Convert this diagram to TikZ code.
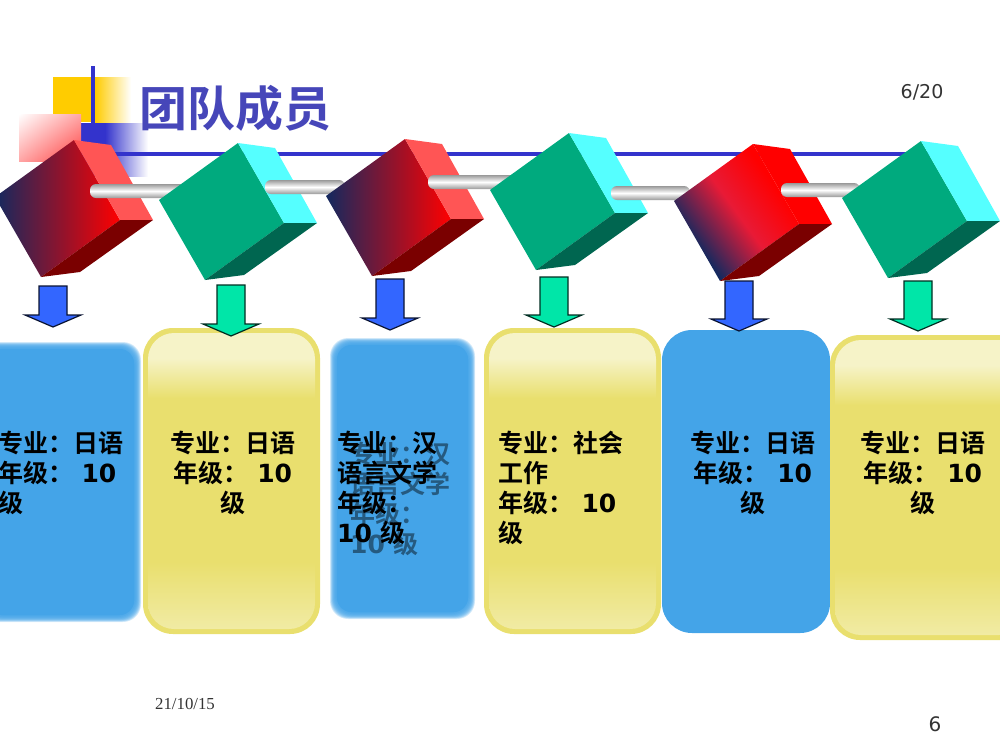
\documentclass[tikz,border=0pt]{standalone}
\usepackage{fontspec}
\usetikzlibrary{shadings}
\setmainfont{DejaVu Sans}
\newfontfamily\cjkbold[BoldFont={Noto Sans CJK SC Bold}]{Noto Sans CJK SC}
\newfontfamily\cjktitle[BoldFont={Noto Sans CJK SC Bold}]{Noto Sans CJK SC}
\newfontfamily\dejabold{DejaVu Sans Bold}
\newfontfamily\dateserif{Liberation Serif}
\newcommand{\cubebox}[5]{%
	\begin{scope}[shift={(#1,#2)}]
		\shade[#3] (0,0) -- (79,-57) -- (125,23) -- (46,80) -- cycle;
		\fill[#4] (79,-57) -- (116,-52) -- (158,23) -- (125,23) -- cycle;
		\fill[#5] (46,80) -- (125,23) -- (158,23) -- (85,75) -- cycle;
	\end{scope}}
\newcommand{\rodbar}[3]{%
	\shade[top color=gray!80,bottom color=gray!80,middle color=white,rounded corners=6pt] (#1,#3) rectangle (#2,#3+14);}
\newcommand{\downarrowbox}[4]{%
	\draw[fill=#4,draw=black!80!#4,line width=1.2pt] (#1-14,#2) -- (#1+14,#2) -- (#1+14,#3-12) -- (#1+28,#3-12) -- (#1,#3) -- (#1-28,#3-12) -- (#1-14,#3-12) -- cycle;}
\newcommand{\softbox}[4]{%
	\foreach \k in {0,...,13}
		\fill[boxblue,opacity=0.2,rounded corners=18pt] (#1+\k*0.5,#2+\k*0.5) rectangle (#3-\k*0.5,#4-\k*0.5);
	\fill[boxblue,rounded corners=14pt] (#1+7,#2+7) rectangle (#3-7,#4-7);}
\newcommand{\creambox}[4]{%
	\fill[boxedge,rounded corners=30pt] (#1,#2) rectangle (#3,#4);
	\begin{scope}
		\clip[rounded corners=26pt] (#1+5,#2+5) rectangle (#3-5,#4-5);
		\fill[boxedge] (#1,#2) rectangle (#3,#4);
		\fill[boxpale] (#1,#2) rectangle (#3,#2+30);
		\shade[top color=boxpale,bottom color=boxedge] (#1,#2+30) rectangle (#3,#2+70);
		\shade[top color=boxedge,bottom color=boxpale!60!boxedge] (#1,#4-72) rectangle (#3,#4-5);
	\end{scope}}
\definecolor{boxblue}{HTML}{44A4E8}
\definecolor{boxedge}{HTML}{E9DF6E}
\definecolor{boxpale}{HTML}{F6F3C8}
\definecolor{linkblue}{HTML}{3333CC}
\definecolor{arrowblue}{HTML}{3366FF}
\definecolor{arrowgreen}{HTML}{00E6A8}
\definecolor{cubegreen}{HTML}{00AA7E}
\definecolor{cubeaqua}{HTML}{55FFFF}
\definecolor{cubedeep}{HTML}{006650}
\definecolor{cubenavy}{HTML}{13295F}
\definecolor{cubecrimson}{HTML}{E81A36}
\definecolor{cubesalmon}{HTML}{FF5555}
\definecolor{cubemaroon}{HTML}{7A0000}
\definecolor{squareyellow}{HTML}{FFCC00}
\pgfdeclarehorizontalshading{cubefade}{100bp}{color(0bp)=(cubenavy); color(30bp)=(cubenavy); color(50bp)=(cubecrimson); color(68bp)=(red); color(100bp)=(red)}
\tikzset{
	memberlabel/.style={font=\cjkbold\bfseries\fontsize{25}{30}\selectfont,text width=#1,inner sep=0pt},
	memberlabel/.default=140pt,
	darkcube/.style={left color=cubenavy,middle color=cubenavy!35!red!70!black,right color=red},
	brightcube/.style={shading=cubefade,shading angle=36},
	greencube/.style={left color=cubegreen,right color=cubegreen}
}
\begin{document}
\begin{tikzpicture}[x=1pt,y=-1pt]
	\useasboundingbox (0,0) rectangle (1000,750);
	% draw corner squares
	\fill[squareyellow] (53,77) rectangle (95,122);
	\shade[left color=squareyellow,right color=white] (95,77) rectangle (131,122);
	\fill[linkblue] (81,123) rectangle (105,176);
	\shade[left color=linkblue,right color=white] (105,123) rectangle (148,176);
	\shade[lower right=red!75,upper left=white,upper right=red!35,lower left=red!35] (19,114) rectangle (81,161);
	\draw[linkblue,line width=3.5pt] (93,66) -- (93,123);
	\draw[linkblue,line width=3.5pt] (115,154) -- (930,154);
	% draw title
	\node[font=\cjktitle\bfseries\fontsize{48}{48}\selectfont,text=linkblue!75!gray,inner sep=0pt] (title) at (235,108) {团队成员};
	\node[font=\fontsize{19}{19}\selectfont,text=black!80,inner sep=0pt] (pagecount) at (922,92) {6/20};
	% draw cubes and rods
	\cubebox{-5}{197}{darkcube}{cubesalmon}{cubemaroon}
	\rodbar{90}{185}{184}
	\cubebox{159}{200}{greencube}{cubeaqua}{cubedeep}
	\rodbar{265}{345}{180}
	\cubebox{326}{196}{darkcube}{cubesalmon}{cubemaroon}
	\rodbar{428}{515}{175}
	\cubebox{490}{190}{greencube}{cubeaqua}{cubedeep}
	\rodbar{611}{690}{186}
	\cubebox{674}{201}{brightcube}{red}{cubemaroon}
	\rodbar{781}{860}{183}
	\cubebox{842}{198}{greencube}{cubeaqua}{cubedeep}
	% draw boxes
	\softbox{-20}{342}{141}{622}
	\creambox{143}{328}{320}{634}
	\softbox{330}{338}{475}{619}
	\creambox{484}{328}{661}{634}
	\fill[boxblue,rounded corners=30pt] (662,330) rectangle (830,633);
	\creambox{830}{335}{1030}{640}
	% draw arrows
	\downarrowbox{53}{286}{327}{arrowblue}
	\downarrowbox{231}{285}{336}{arrowgreen}
	\downarrowbox{390}{279}{330}{arrowblue}
	\downarrowbox{554}{277}{327}{arrowgreen}
	\downarrowbox{739}{281}{331}{arrowblue}
	\downarrowbox{918}{281}{331}{arrowgreen}
	% draw labels
	\node[memberlabel=140pt,anchor=north west,align=left] (memberA) at (-2,431) {专业：日语\\年级：{\dejabold\ 10}\\级};
	\node[memberlabel=130pt,anchor=north,align=center] (memberB) at (233,431) {专业：日语\\年级：{\dejabold\ 10}\\级};
	\node[memberlabel=110pt,anchor=north west,align=left,text=black!45!boxblue] (ghostC) at (350,442) {专业：汉\\语言文学\\年级：\\{\dejabold 10} 级};
	\node[memberlabel=110pt,anchor=north west,align=left] (memberC) at (337,431) {专业：汉\\语言文学\\年级：\\{\dejabold 10} 级};
	\node[memberlabel=130pt,anchor=north west,align=left] (memberD) at (498,431) {专业：社会\\工作\\年级：{\dejabold\ 10}\\级};
	\node[memberlabel=130pt,anchor=north,align=center] (memberE) at (753,431) {专业：日语\\年级：{\dejabold\ 10}\\级};
	\node[memberlabel=130pt,anchor=north,align=center] (memberF) at (923,431) {专业：日语\\年级：{\dejabold\ 10}\\级};
	% draw footer
	\node[font=\dateserif\fontsize{16.8}{17}\selectfont,text=black!80,inner sep=0pt] (datestamp) at (185,704) {21/10/15};
	\node[font=\fontsize{20}{20}\selectfont,text=black!80,inner sep=0pt] (pagenumber) at (935,724) {6};
\end{tikzpicture}
\end{document}
